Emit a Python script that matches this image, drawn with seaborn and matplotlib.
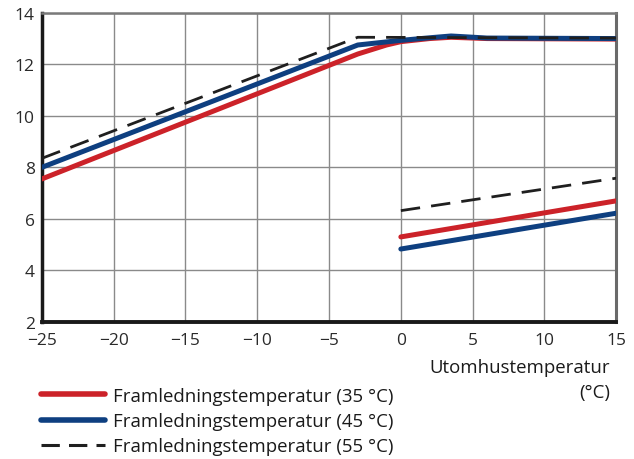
import numpy as np
import pandas as pd
import matplotlib
matplotlib.use("Agg")
import matplotlib.pyplot as plt
import seaborn as sns
from matplotlib.lines import Line2D

# Data
labels = ["Framledningstemperatur (35 °C)",
          "Framledningstemperatur (45 °C)",
          "Framledningstemperatur (55 °C)"]

upper_x_35 = [-25, -3, -1, 0, 2, 3.5, 6, 15]
upper_y_35 = [7.55, 12.4, 12.75, 12.88, 13.0, 13.05, 13.0, 12.98]
upper_x_45 = [-25, -3, 0, 2, 3.5, 6, 15]
upper_y_45 = [8.0, 12.75, 12.93, 13.03, 13.1, 13.02, 13.0]
upper_x_55 = [-25, -3, 15]
upper_y_55 = [8.35, 13.05, 13.02]

lower_x = [0, 15]
lower_y_35 = [5.3, 6.7]
lower_y_45 = [4.83, 6.22]
lower_y_55 = [6.32, 7.58]

xticks = [-25, -20, -15, -10, -5, 0, 5, 10, 15]
yticks = [2, 4, 6, 8, 10, 12, 14]

colors = ["#cc2229", "#0e3f80", "#1f1f1f"]
widths = [3.6, 3.6, 2.0]

sns.set_style("white")
plt.rcParams['font.family'] = ['Open Sans', 'DejaVu Sans']

fig = plt.figure(figsize=(6.34, 4.6), dpi=100)
ax = fig.add_axes([0.066, 0.298, 0.906, 0.672])

segments = [
    (upper_x_35, upper_y_35, 0), (lower_x, lower_y_35, 0),
    (upper_x_45, upper_y_45, 1), (lower_x, lower_y_45, 1),
    (upper_x_55, upper_y_55, 2), (lower_x, lower_y_55, 2),
]
for xs, ys, i in segments:
    df = pd.DataFrame({"x": xs, "y": ys})
    ls = (0, (7, 4)) if i == 2 else "-"
    sns.lineplot(data=df, x="x", y="y", ax=ax, color=colors[i], lw=widths[i],
                 linestyle=ls, solid_capstyle="round", sort=False, zorder=3 + (i == 2))

ax.set_xlim(-25, 15)
ax.set_ylim(2, 14)
ax.set_xticks(xticks)
ax.set_yticks(yticks)
ax.set_xticklabels([f"\u2212{abs(v)}" if v < 0 else str(v) for v in xticks])
ax.grid(True, color="#8a8a8a", lw=1.0)
ax.set_axisbelow(True)
ax.tick_params(axis="both", labelsize=12.5, colors="#333333", length=4, width=1,
               direction="out", pad=1)
ax.tick_params(axis="x", pad=3.5)
ax.tick_params(axis="both", labelcolor="#2a2a2a")
ax.set_xlabel("")
ax.set_ylabel("")

for side, c, w in [("left", "#1a1a1a", 2.5), ("bottom", "#1a1a1a", 2.8),
                   ("top", "#7a7a7a", 1.8), ("right", "#6a6a6a", 2.2)]:
    ax.spines[side].set_visible(True)
    ax.spines[side].set_color(c)
    ax.spines[side].set_linewidth(w)

fig.text(610 / 634, 1 - 368 / 460, "Utomhustemperatur", ha="right", va="center",
         fontsize=13.4, color="#1a1a1a")
fig.text(610 / 634, 1 - 393 / 460, "(°C)", ha="right", va="center",
         fontsize=13.4, color="#1a1a1a")

handles = [Line2D([], [], color=colors[0], lw=4, solid_capstyle="round"),
           Line2D([], [], color=colors[1], lw=4, solid_capstyle="round"),
           Line2D([], [], color=colors[2], lw=2.2, linestyle=(0, (6, 3)))]
fig.legend(handles, labels, loc="upper left", bbox_to_anchor=(41 / 634, 1 - 388 / 460),
           frameon=False, fontsize=13.4, handlelength=3.45, handletextpad=0.43,
           labelspacing=0.38, borderaxespad=0, borderpad=0.0, labelcolor="#1a1a1a")

fig.savefig("out.png", dpi=100)
